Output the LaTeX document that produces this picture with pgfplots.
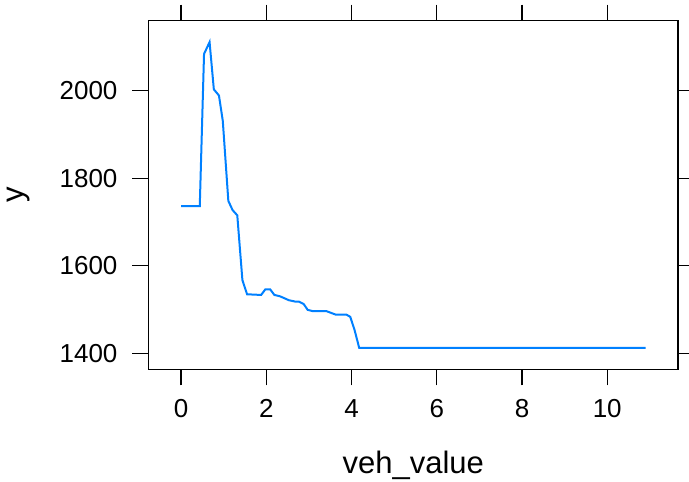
\documentclass[border=0pt]{standalone}
\usepackage{pgfplots}
\pgfplotsset{compat=1.18}
\usepackage{fontspec}
\setmainfont{Liberation Sans}
\definecolor{latblue}{HTML}{0080FF}
\begin{document}
\begin{tikzpicture}
\begin{axis}[
  at={(0,0)}, anchor=south west,
  scale only axis, width=264.75pt, height=174.3pt,
  xmin=-0.763, xmax=11.66, ymin=1363, ymax=2160,
  xtick={0,2,4,6,8,10}, ytick={1400,1600,1800,2000},
  xtick pos=both, ytick pos=both,
  tick align=outside,
  major tick length=8pt,
  every tick/.style={black, line width=0.6pt},
  axis line style={line width=0.6pt, black},
  /pgf/number format/assume math mode=true,
  /pgf/number format/set thousands separator={},
  tick label style={font=\fontsize{13}{15}\selectfont},
  xticklabel style={yshift=-3.7pt},
  yticklabel style={xshift=-4pt},
  xlabel={veh\_value}, ylabel={y},
  label style={font=\fontsize{15.5}{18}\selectfont},
  xlabel style={at={(axis description cs:0.5,0)}, anchor=base, yshift=-51.85pt},
  ylabel style={at={(axis description cs:0,0.5)}, anchor=base, yshift=62.5pt},
]
\addplot[latblue, line width=1pt, mark=none] coordinates {
(0,1736) (0.44,1736) (0.54,2084) (0.67,2111) (0.77,2003) (0.89,1989) (0.98,1931)
(1.11,1748) (1.21,1727) (1.32,1715) (1.44,1567) (1.55,1534.5) (1.88,1533)
(1.98,1546) (2.09,1546) (2.19,1533) (2.32,1530) (2.53,1521) (2.67,1518)
(2.76,1518) (2.88,1512) (2.97,1499) (3.09,1496) (3.41,1496) (3.63,1488)
(3.88,1488) (3.97,1483) (4.07,1453.5) (4.18,1412) (10.9,1412)
};
\end{axis}
\pgfresetboundingbox
\path[use as bounding box] (-74.25pt,-55.85pt) rectangle (270.25pt,184.65pt);
\end{tikzpicture}
\end{document}
